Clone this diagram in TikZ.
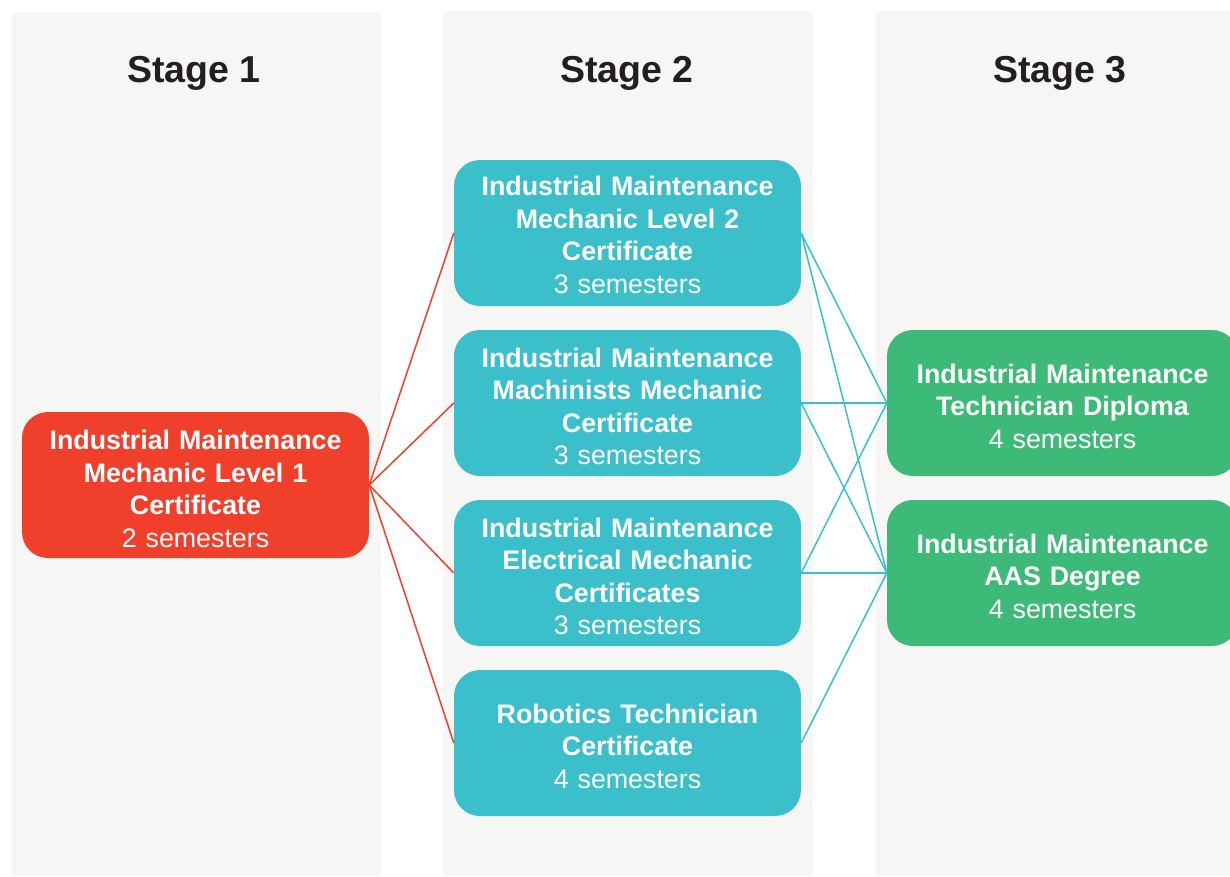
\documentclass[tikz,border=0pt]{standalone}
\usepackage{fontspec}
\setmainfont{Liberation Sans}
\definecolor{panelbg}{HTML}{F6F6F4}
\definecolor{redbox}{HTML}{F0402B}
\definecolor{tealbox}{HTML}{3ABFCB}
\definecolor{greenbox}{HTML}{3DB978}
\definecolor{headtxt}{HTML}{231F20}
\newcommand\myTopStrut[1]{\rule{0pt}{#1}}
\tikzset{
  panel/.style={fill=panelbg, draw=none},
  stagehead/.style={font=\fontsize{37.5}{44}\selectfont\bfseries, text=headtxt, inner sep=0},
  progbox/.style={rectangle, rounded corners=26pt, draw=none, minimum width=347pt, minimum height=146pt, inner sep=0pt, text width=345pt, align=center, text=white, font=\fontsize{26.8}{32.5}\selectfont},
  s1box/.style={progbox, fill=redbox},
  s2box/.style={progbox, fill=tealbox},
  s3box/.style={progbox, fill=greenbox, minimum width=351pt},
  redlink/.style={draw=redbox, line width=1.5pt},
  teallink/.style={draw=tealbox, line width=1.5pt}
}
\begin{document}
\begin{tikzpicture}[x=1pt,y=-1pt]
\useasboundingbox (0,0) rectangle (1230,876);
\fill[white] (0,0) rectangle (1230,876);
% panels
\fill[panel] (12,12) rectangle (381,876);
\fill[panel] (443,11) rectangle (813,876);
\fill[panel] (876,11) rectangle (1240,876);
% headers
\node[stagehead] (h1) at (194,73.5) {Stage 1};
\node[stagehead] (h2) at (627,73.5) {Stage 2};
\node[stagehead] (h3) at (1060,73.5) {Stage 3};
% stage 1
\node[s1box] (a) at (195.5,485) {\myTopStrut{27.6pt}\textbf{Industrial Maintenance}\\\textbf{Mechanic Level 1}\\\textbf{Certificate}\\2 semesters};
% stage 2
\node[s2box] (b1) at (627.5,233) {\myTopStrut{23.6pt}\textbf{Industrial Maintenance}\\\textbf{Mechanic Level 2}\\\textbf{Certificate}\\3 semesters};
\node[s2box] (b2) at (627.5,403) {\myTopStrut{26.6pt}\textbf{Industrial Maintenance}\\\textbf{Machinists Mechanic}\\\textbf{Certificate}\\3 semesters};
\node[s2box] (b3) at (627.5,573) {\myTopStrut{26.6pt}\textbf{Industrial Maintenance}\\\textbf{Electrical Mechanic}\\\textbf{Certificates}\\3 semesters};
\node[s2box] (b4) at (627.5,743) {\myTopStrut{25.6pt}\textbf{Robotics Technician}\\\textbf{Certificate}\\4 semesters};
% stage 3
\node[s3box] (c1) at (1062.5,403) {\myTopStrut{25.6pt}\textbf{Industrial Maintenance}\\\textbf{Technician Diploma}\\4 semesters};
\node[s3box] (c2) at (1062.5,573) {\myTopStrut{25.6pt}\textbf{Industrial Maintenance}\\\textbf{AAS Degree}\\4 semesters};
% links stage 1 -> 2
\draw[redlink] (a.east) -- (b1.west);
\draw[redlink] (a.east) -- (b2.west);
\draw[redlink] (a.east) -- (b3.west);
\draw[redlink] (a.east) -- (b4.west);
% links stage 2 -> 3
\draw[teallink] (b1.east) -- (c1.west);
\draw[teallink] (b1.east) -- (c2.west);
\draw[teallink] (b2.east) -- (c1.west);
\draw[teallink] (b2.east) -- (c2.west);
\draw[teallink] (b3.east) -- (c1.west);
\draw[teallink] (b3.east) -- (c2.west);
\draw[teallink] (b4.east) -- (c2.west);
\end{tikzpicture}
\end{document}
